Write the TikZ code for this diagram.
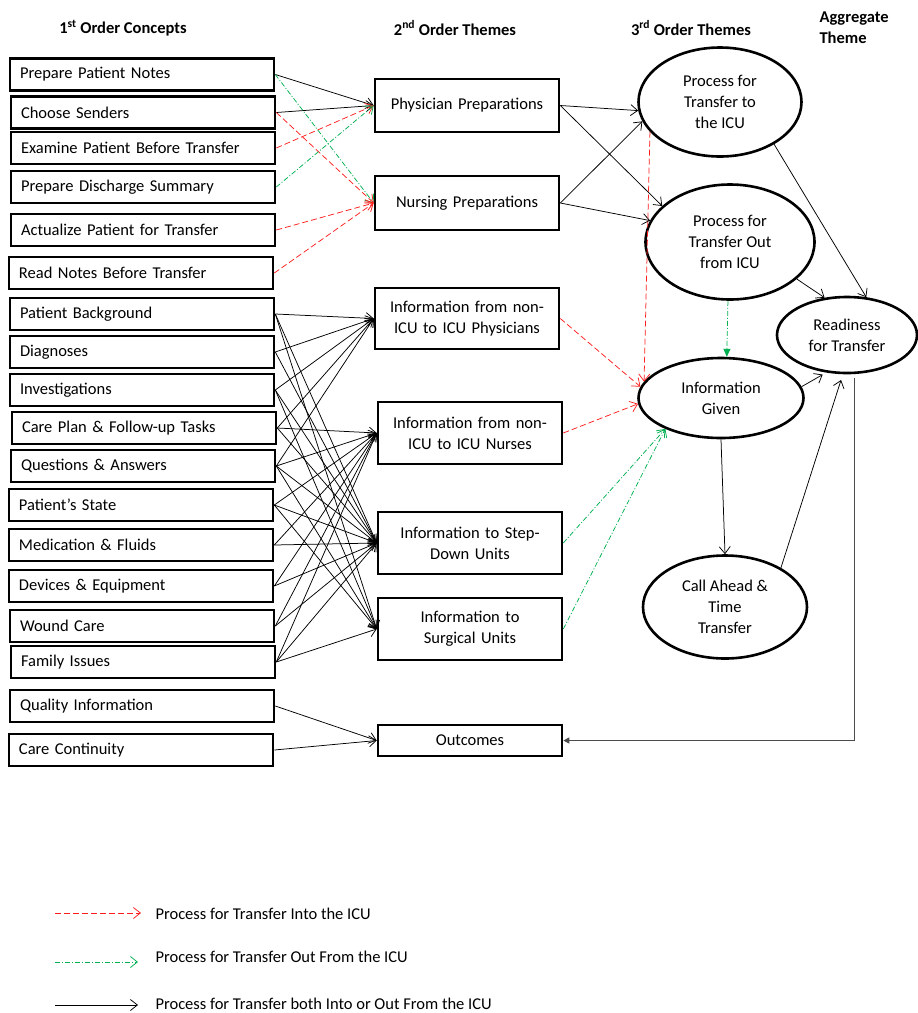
\documentclass[tikz,border=0pt]{standalone}
\usepackage{fontspec}
\setmainfont{Carlito}
\usetikzlibrary{shapes.geometric,arrows.meta,calc}
\definecolor{myred}{RGB}{255,30,30}
\definecolor{mygreen}{RGB}{0,176,80}
\begin{document}
\begin{tikzpicture}[x=1pt,y=-1pt,
  every node/.style={font=\fontsize{16.5}{21}\selectfont},
  conc/.style={draw, line width=2.6pt, minimum width=264pt, minimum height=32pt, text width=244pt, inner xsep=10pt, inner ysep=0pt, align=left},
  theme/.style={draw, line width=2.6pt, minimum width=184pt, text width=176pt, inner xsep=4pt, inner ysep=0pt, align=center},
  oval/.style={ellipse, draw, line width=2.6pt, inner sep=0pt, align=center},
  hdr/.style={font=\fontsize{16.5}{21}\selectfont\bfseries},
  tip/.style={-{Straight Barb[length=7pt,width=11pt]}},
  blk/.style={tip, line width=0.75pt, black},
  redl/.style={tip, line width=0.75pt, myred, dash pattern=on 6pt off 3pt},
  grnl/.style={tip, line width=0.75pt, mygreen, dash pattern=on 5pt off 2pt on 1pt off 2pt},
]
\useasboundingbox (0,0) rectangle (918,1013);

% headers
\node[hdr] (h1) at (123,28) {1\textsuperscript{st} Order Concepts};
\node[hdr] (h2) at (455,28) {2\textsuperscript{nd} Order Themes};
\node[hdr] (h3) at (691,28) {3\textsuperscript{rd} Order Themes};
\node[hdr, align=left, anchor=west] (h4) at (816,28) {Aggregate\\Theme};

% first order concepts
\node[conc] (ppn)  at (142,74.5) {Prepare Patient Notes};
\node[conc] (cs)   at (143,112.5) {Choose Senders};
\node[conc] (epbt) at (143,148) {Examine Patient Before Transfer};
\node[conc] (pds)  at (143,187) {Prepare Discharge Summary};
\node[conc] (apt)  at (143,230) {Actualize Patient for Transfer};
\node[conc] (rnbt) at (141,273) {Read Notes Before Transfer};
\node[conc] (pb)   at (142,314) {Patient Background};
\node[conc] (dg)   at (142,352) {Diagnoses};
\node[conc] (inv)  at (142,390) {Investigations};
\node[conc] (cp)   at (144,428) {Care Plan \& Follow-up Tasks};
\node[conc] (qa)   at (143,466) {Questions \& Answers};
\node[conc] (ps)   at (141,505) {Patient’s State};
\node[conc] (mf)   at (141,545) {Medication \& Fluids};
\node[conc] (de)   at (141,586) {Devices \& Equipment};
\node[conc] (wc)   at (142,626) {Wound Care};
\node[conc] (fi)   at (143,662) {Family Issues};
\node[conc] (qi)   at (142,706) {Quality Information};
\node[conc] (cc)   at (141,750) {Care Continuity};

% second order themes
\node[theme, minimum height=53pt] (php) at (467,105.5) {Physician Preparations};
\node[theme, minimum height=54pt] (nup) at (467,203) {Nursing Preparations};
\node[theme, minimum height=61pt] (ifp) at (467,318.5) {Information from non-\\ICU to ICU Physicians};
\node[theme, minimum height=62pt] (ifn) at (470,433) {Information from non-\\ICU to ICU Nurses};
\node[theme, minimum height=62pt] (isd) at (470,543) {Information to Step-\\Down Units};
\node[theme, minimum height=62pt] (isu) at (470,629) {Information to\\Surgical Units};
\node[theme, minimum height=31pt] (out) at (470,740.5) {Outcomes};

% third order themes
\node[oval, minimum width=163pt, minimum height=109pt] (pti) at (720,102) {Process for\\Transfer to\\the ICU};
\node[oval, minimum width=169pt, minimum height=115pt] (pto) at (730,242) {Process for\\Transfer Out\\from ICU};
\node[oval, minimum width=140pt, minimum height=76pt] (rft) at (847,335) {Readiness\\for Transfer};
\node[oval, minimum width=165pt, minimum height=80pt] (ig) at (721,398) {Information\\Given};
\node[oval, minimum width=164pt, minimum height=103pt] (ca) at (725,607) {Call Ahead \&\\Time\\Transfer};

% preparations
\draw[blk] (ppn.east) -- (php.west);
\draw[blk] (cs.east) -- (php.west);
\draw[grnl] (ppn.east) -- (nup.west);
\draw[redl] (cs.east) -- (nup.west);
\draw[redl] (epbt.east) -- (php.west);
\draw[grnl] (pds.east) -- (php.west);
\draw[redl] (apt.east) -- (nup.west);
\draw[redl] (rnbt.east) -- (nup.west);

% information network
\foreach \s/\t in {pb/ifp, dg/ifp, inv/ifp, cp/ifp, qa/ifp,
                   cp/ifn, qa/ifn, ps/ifn, mf/ifn, de/ifn, wc/ifn, fi/ifn,
                   pb/isd, dg/isd, inv/isd, cp/isd, qa/isd, ps/isd, mf/isd, de/isd, wc/isd, fi/isd,
                   pb/isu, inv/isu, qa/isu, ps/isu, fi/isu}
  \draw[blk] (\s.east) -- (\t.west);

\draw[blk] (qi.east) -- (out.west);
\draw[blk] (cc.east) -- (out.west);

% third order
\draw[blk] (php.east) -- (pti.186);
\draw[blk] (php.east) -- (pto.152);
\draw[blk] (nup.east) -- (pti.194);
\draw[blk] (nup.east) -- (pto.165);
\draw[blk] (pti.322) -- (rft.63);
\draw[blk] (pto.331) -- (rft.121);
\draw[redl] (pti.203) -- (ig.168);
\draw[line width=0.75pt, mygreen, dash pattern=on 5pt off 2pt on 1pt off 2pt, -{Triangle[length=8pt,width=7pt]}] (pto.268) -- (ig.82);
\draw[redl] (ifp.east) -- (ig.172);
\draw[redl] (ifn.east) -- (ig.184);
\draw[grnl] (isd.east) -- (ig.209);
\draw[grnl] (isu.east) -- (ig.209);
\draw[blk] (ig.south) -- (ca.north);
\draw[blk, shorten >=6pt] (ca.35) -- (rft.264);
\draw[blk, shorten >=4pt] (ig.8) -- (rft.241);
\coordinate (rb) at (854,378);
\draw[line width=0.7pt, black!70, -{Triangle[length=6pt,width=6pt]}] (rb) |- (out.east);

% legend
\coordinate (l1a) at (55,913); \coordinate (l1b) at (141,913);
\coordinate (l2a) at (55,962); \coordinate (l2b) at (138,962);
\coordinate (l3a) at (55,1005); \coordinate (l3b) at (138,1005);
\draw[redl] (l1a) -- (l1b);
\draw[grnl] (l2a) -- (l2b);
\draw[blk] (l3a) -- (l3b);
\node[anchor=west] (t1) at (152,914) {Process for Transfer Into the ICU};
\node[anchor=west] (t2) at (152,957) {Process for Transfer Out From the ICU};
\node[anchor=west, inner ysep=1pt] (t3) at (152,1004) {Process for Transfer both Into or Out From the ICU};
\end{tikzpicture}
\end{document}
